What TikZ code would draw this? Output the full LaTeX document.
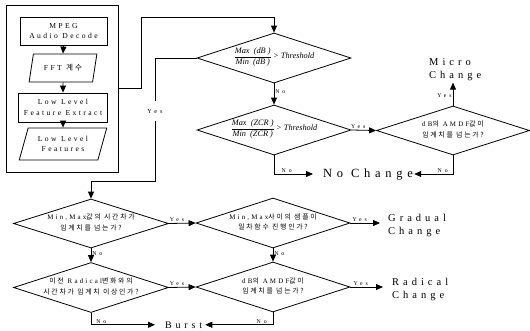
\documentclass[tikz,border=0pt]{standalone}
\usepackage{fontspec}
\setmainfont{Liberation Serif}
\newfontfamily\lsp[LetterSpace=32]{Liberation Serif}
\newfontfamily\lspb[LetterSpace=38]{Liberation Serif}
\newfontfamily\lspl[LetterSpace=50]{Liberation Serif}
\newfontfamily\krf[LetterSpace=25]{Noto Sans CJK KR}
\usetikzlibrary{shapes.geometric,arrows.meta}
\newcommand\K[1]{{\krf #1}}
\newcommand\dtext[2]{\raisebox{-2pt}{\smash{\makebox[0pt]{\fontsize{6.9}{10.5}\selectfont\lsp\begin{tabular}{@{}c@{}}#1\\#2\end{tabular}}}}}
\newcommand\dfr[2]{\raisebox{-1.8pt}{\smash{\makebox[0pt]{\fontsize{8.3}{10}\selectfont\itshape $\displaystyle\frac{\mbox{#1}}{\mbox{#2}}$\,> Threshold}}}}
\begin{document}
\begin{tikzpicture}[x=1pt,y=-1pt,
  ln/.style={line width=0.8pt},
  box/.style={draw, ln, rectangle, inner sep=0pt, align=center, font=\fontsize{7.6}{10.5}\selectfont\lsp},
  para/.style={draw, ln, trapezium, trapezium left angle=68, trapezium right angle=112, trapezium stretches, inner sep=0pt, align=center, font=\fontsize{7.6}{10.5}\selectfont\lsp},
  dia/.style={draw, ln, diamond, inner sep=0pt, minimum width=154pt, minimum height=50pt},
  arr/.style={ln, -{Triangle[length=7pt,width=6pt]}},
  lab/.style={font=\fontsize{5.8}{6}\selectfont\lspl, inner sep=1pt},
  big/.style={font=\fontsize{10.5}{13}\selectfont\lspb, align=left, inner sep=0pt}]
\useasboundingbox (0,0) rectangle (530,330);

% left block
\node[draw, line width=0.9pt, minimum width=112pt, minimum height=167pt, inner sep=0pt] (outer) at (62,88.5) {};
\node[box, minimum width=87pt, minimum height=28pt] (mpeg) at (63.5,31) {MPEG\\Audio Decode};
\node[para, minimum width=68pt, minimum height=28pt] (fft) at (63,68) {FFT \K{계수}};
\node[box, minimum width=89pt, minimum height=29pt] (lle) at (63,107.5) {Low Level\\Feature Extract};
\node[para, minimum width=88pt, minimum height=32pt] (llf) at (63,144) {Low Level\\Features};
\draw[arr] (mpeg.south) -- (fft.north);
\draw[arr] (fft.south) -- (lle.north);
\draw[arr] (lle.south) -- (llf.north);

% diamonds
\node[dia] (d1) at (274,58) {\dfr{Max\ \ (dB\ )}{Min\ \ (dB\ )}};
\node[dia] (d2) at (274,130) {\dfr{Max\ \ (ZCR\ )}{Min\ \ (ZCR\ )}};
\node[dia, minimum width=153pt, minimum height=49pt] (d3) at (453,130.5) {\dtext{dB\K{의} AMDF\K{값이}}{\K{임계치를 넘는가?}}};
\node[dia, minimum width=155pt, minimum height=49pt] (d5) at (91,223.5) {\dtext{Min,Max\K{값의 시간차가}}{\K{임계치를 넘는가?}}};
\node[dia] (d6) at (273,223) {\dtext{Min,Max\K{사이의 샘플이}}{\K{일차함수 진행인가?}}};
\node[dia] (d7) at (273,287) {\dtext{dB\K{의} AMDF\K{값이}}{\K{임계치를 넘는가?}}};
\node[dia, minimum width=155pt] (d8) at (91,287.5) {\dtext{\K{이전} Radical\K{변화와의}}{\K{시간차가 임계치 이상인가?}}};

% result texts
\node[big, anchor=north west] (micro) at (429,58) {Micro\\Change};
\node[big, font=\fontsize{12.5}{14}\selectfont\lspb, anchor=base west] (nochange) at (323,177) {No Change};
\node[big, anchor=north west] (gradual) at (388,214) {Gradual\\Change};
\node[big, anchor=north west] (radical) at (392,278) {Radical\\Change};
\node[big, font=\fontsize{10}{12}\selectfont\lspb, anchor=base west] (burst) at (165,328) {Burst};

% connectors
\draw[arr] (outer.east) -| (141,17) -| (d1.north);
\node[lab, font=\fontsize{6.2}{7}\selectfont\lspl, inner ysep=8pt] (ylab) at (155,111) {Yes};
\draw[ln] (d1.west) -| (ylab.north);
\draw[arr] (ylab.south) -- (155,181) -| (d5.north);
\draw[arr] (d1.south) -- node[lab, right, pos=0.4] {No} (d2.north);
\draw[arr] (d2.east) -- node[lab, above, pos=0.28] {Yes} (d3.west);
\draw[arr, shorten >=2pt] (d3.north) -- node[lab, left, pos=0.4] {Yes} (d3.north |- micro.south);
\draw[arr, shorten >=10pt] (d2.south) |- node[lab, above, pos=0.63] {No} (nochange.west);
\draw[arr, shorten >=1pt] (d3.south) |- node[lab, above, pos=0.63] {No} (nochange.east);
\draw[arr] (d5.east) -- node[lab, above, pos=0.3] {Yes} (d6.west);
\draw[arr, shorten >=8pt] (d6.east) -- node[lab, above, pos=0.25] {Yes} (d6.east -| gradual.west);
\draw[arr] (d6.south) -- node[lab, right, pos=0.4] {No} (d7.north);
\draw[arr, shorten >=9pt] (d7.east) -- node[lab, above, pos=0.25] {Yes} (d7.east -| radical.west);
\draw[arr] (d5.south) -- node[lab, right, pos=0.4] {No} (d8.north);
\draw[arr] (d8.east) -- node[lab, above, pos=0.3] {Yes} (d7.west);
\draw[arr, shorten >=10pt] (d8.south) |- node[lab, above, pos=0.57] {No} (burst.west);
\draw[arr, shorten >=3pt] (d7.south) |- node[lab, above, pos=0.58] {No} (burst.east);
\end{tikzpicture}
\end{document}
